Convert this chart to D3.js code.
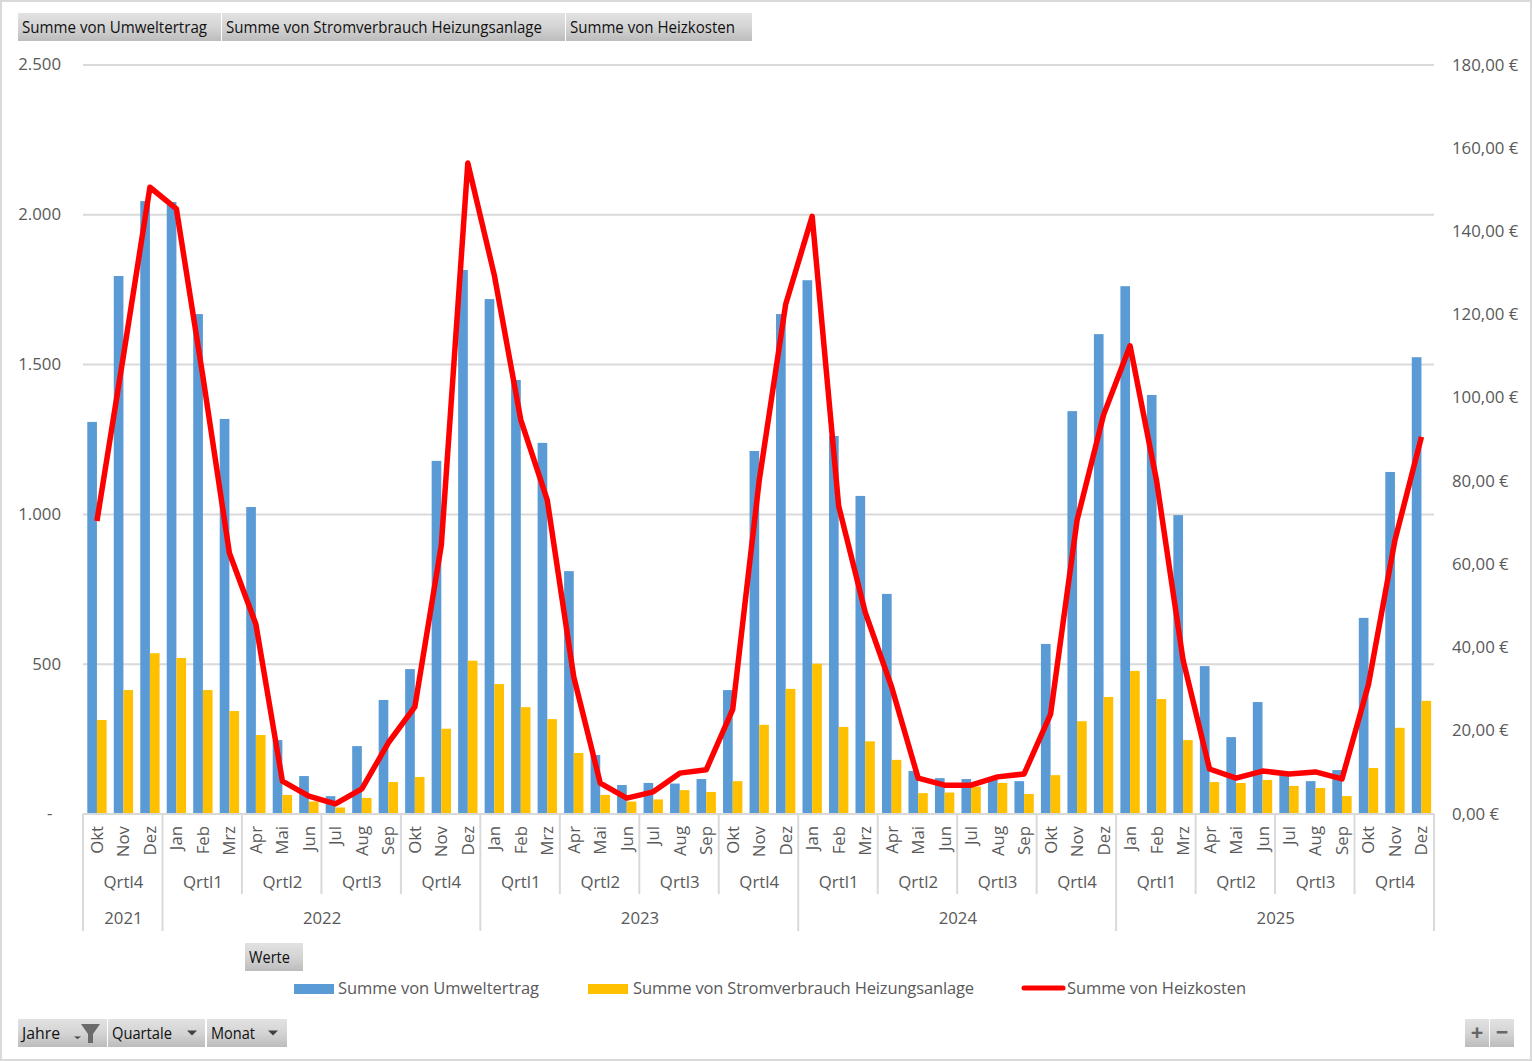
<!DOCTYPE html>
<html>
<head>
<meta charset="utf-8">
<script src="https://cdn.jsdelivr.net/npm/d3@7"></script>
<style>
  html, body { margin: 0; padding: 0; background: #fff; }
  text { font-family: "Open Sans", "Noto Sans", sans-serif; fill: #595959; }
  .btn text { font-family: "Open Sans", "Noto Sans", sans-serif; fill: #111; font-size: 17px; }
  .domain { display: none; }
</style>
</head>
<body>
<svg id="chart" width="1532" height="1061"></svg>
<script>
// values
var months = ["Okt","Nov","Dez",
  "Jan","Feb","Mrz","Apr","Mai","Jun","Jul","Aug","Sep","Okt","Nov","Dez",
  "Jan","Feb","Mrz","Apr","Mai","Jun","Jul","Aug","Sep","Okt","Nov","Dez",
  "Jan","Feb","Mrz","Apr","Mai","Jun","Jul","Aug","Sep","Okt","Nov","Dez",
  "Jan","Feb","Mrz","Apr","Mai","Jun","Jul","Aug","Sep","Okt","Nov","Dez"];
var quarterNames = ["Qrtl4","Qrtl1","Qrtl2","Qrtl3","Qrtl4","Qrtl1","Qrtl2","Qrtl3","Qrtl4","Qrtl1","Qrtl2","Qrtl3","Qrtl4","Qrtl1","Qrtl2","Qrtl3","Qrtl4"];
var yearNames = ["2021","2022","2023","2024","2025"];
var yearLengths = [3,12,12,12,12];

var umweltertrag = [1307,1794,2044,
  2041,1667,1317,1023,245,125,58,225,379,482,1177,1814,
  1717,1447,1237,809,195,95,102,100,115,412,1210,1667,
  1780,1260,1060,733,142,118,115,112,108,566,1343,1600,
  1760,1397,996,492,255,372,128,108,145,653,1140,1523];
var stromverbrauch = [312,412,535,
  519,412,342,262,62,40,20,52,105,122,283,510,
  432,355,315,202,62,40,47,78,72,108,296,416,
  500,289,241,179,68,70,90,102,65,128,308,389,
  476,382,245,105,102,112,92,85,58,152,286,376];
var heizkosten = [70.3,110,150.5,
  145.3,105,62.6,45.5,7.8,4.2,2.3,5.9,17,25.6,64.5,156.3,
  129.4,94.6,75.3,32.8,7.3,3.7,5.2,9.7,10.5,25,80,122.4,
  143.5,73.9,48.4,30.4,8.5,6.8,6.8,8.8,9.5,23.9,70.5,95.8,
  112.4,80,36.9,10.7,8.5,10.2,9.5,10,8.3,31,65.7,90.5];

var leftTicks = [0,500,1000,1500,2000,2500];
var rightTicks = [0,20,40,60,80,100,120,140,160,180];
var seriesNames = ["Summe von Umweltertrag","Summe von Stromverbrauch Heizungsanlage","Summe von Heizkosten"];
var colors = ["#5b9bd5","#ffc000","#ff0000"];

var svg = d3.select("#chart");
var left = 83, right = 1434, top_ = 64.5, bottom = 813.5;
var labelSize = "16.8px";

var de = d3.formatLocale({decimal: ",", thousands: ".", grouping: [3], currency: ["", "\u00a0€"]});

// frame
svg.append("rect").attr("x",1).attr("y",1).attr("width",1530).attr("height",1059)
  .attr("fill","#fff").attr("stroke","#d9d9d9").attr("stroke-width",2);

var defs = svg.append("defs");
var grad = defs.append("linearGradient").attr("id","btnGrad").attr("x1",0).attr("x2",0).attr("y1",0).attr("y2",1);
grad.append("stop").attr("offset","0").attr("stop-color","#e2e2e2");
grad.append("stop").attr("offset","0.5").attr("stop-color","#d4d4d4");
grad.append("stop").attr("offset","1").attr("stop-color","#bcbcbc");

// scales
var x = d3.scaleBand().domain(d3.range(months.length)).range([left+0.7,right+0.7]).paddingInner(0.27).paddingOuter(0.135);
var xSub = d3.scaleBand().domain([0,1]).range([0,x.bandwidth()]);
var yL = d3.scaleLinear().domain([0,2500]).range([bottom,top_]);
var yR = d3.scaleLinear().domain([0,180]).range([bottom,top_]);

// gridlines + left axis
var gL = svg.append("g").attr("transform","translate("+left+",0)")
  .call(d3.axisLeft(yL).tickValues(leftTicks).tickSize(-(right-left)).tickPadding(22)
    .tickFormat(function(d){ return d === 0 ? "-\u00a0\u00a0" : de.format(",d")(d); }));
gL.selectAll("line").attr("stroke","#d9d9d9").attr("stroke-width",2);
gL.selectAll("text").style("font-size",labelSize).attr("dy","0.32em");

// right axis
var gR = svg.append("g").attr("transform","translate("+right+",0)")
  .call(d3.axisRight(yR).tickValues(rightTicks).tickSize(0).tickPadding(18)
    .tickFormat(function(d){ return de.format(",.2f")(d) + "\u00a0€"; }));
gR.selectAll("text").style("font-size",labelSize).attr("dy","0.33em");

// bars
svg.append("g").selectAll("rect").data(umweltertrag).join("rect")
  .attr("x",function(d,i){ return x(i)+xSub(0); })
  .attr("y",function(d){ return yL(d); })
  .attr("width",xSub.bandwidth())
  .attr("height",function(d){ return yL(0)-yL(d); })
  .attr("fill",colors[0]);
svg.append("g").selectAll("rect").data(stromverbrauch).join("rect")
  .attr("x",function(d,i){ return x(i)+xSub(1); })
  .attr("y",function(d){ return yL(d); })
  .attr("width",xSub.bandwidth())
  .attr("height",function(d){ return yL(0)-yL(d); })
  .attr("fill",colors[1]);

// line
var line = d3.line()
  .x(function(d,i){ return x(i)+x.bandwidth()/2; })
  .y(function(d){ return yR(d); });
svg.append("path").datum(heizkosten).attr("d",line)
  .attr("fill","none").attr("stroke",colors[2]).attr("stroke-width",5.5).attr("stroke-linejoin","round");

// category axis, three levels
var step = x.step();
function edge(i){ return left + i*step; }
var axisLevels = svg.append("g").attr("class","levels");
axisLevels.append("line").attr("x1",left).attr("x2",right).attr("y1",bottom+0.5).attr("y2",bottom+0.5)
  .attr("stroke","#d9d9d9").attr("stroke-width",2);

svg.append("g").selectAll("text").data(months).join("text")
  .attr("transform",function(d,i){ return "translate("+(x(i)+x.bandwidth()/2+6)+",826) rotate(-90)"; })
  .attr("text-anchor","end").style("font-size",labelSize)
  .text(function(d){ return d; });

// quarters
quarterNames.forEach(function(q,i){
  var a = edge(i*3), b = edge((i+1)*3);
  axisLevels.append("line").attr("x1",a).attr("x2",a).attr("y1",bottom).attr("y2",894)
    .attr("stroke","#d9d9d9").attr("stroke-width",2);
  axisLevels.append("text").attr("x",(a+b)/2+0.7).attr("y",888).attr("text-anchor","middle")
    .style("font-size",labelSize).text(q);
});
axisLevels.append("line").attr("x1",right).attr("x2",right).attr("y1",bottom).attr("y2",931)
  .attr("stroke","#d9d9d9").attr("stroke-width",2);

var pos = 0;
yearNames.forEach(function(y,i){
  var a = edge(pos), b = edge(pos+yearLengths[i]);
  axisLevels.append("line").attr("x1",a).attr("x2",a).attr("y1",894).attr("y2",931)
    .attr("stroke","#d9d9d9").attr("stroke-width",2);
  axisLevels.append("text").attr("x",(a+b)/2+0.7).attr("y",924).attr("text-anchor","middle")
    .style("font-size",labelSize).text(y);
  pos += yearLengths[i];
});

// legend
var legend = svg.append("g");
legend.append("rect").attr("x",294).attr("y",984).attr("width",40).attr("height",10).attr("fill",colors[0]);
legend.append("rect").attr("x",588).attr("y",984).attr("width",40).attr("height",10).attr("fill",colors[1]);
legend.append("line").attr("x1",1024).attr("x2",1063).attr("y1",988).attr("y2",988)
  .attr("stroke",colors[2]).attr("stroke-width",5).attr("stroke-linecap","round");
[[338,201],[633,341],[1067,179]].forEach(function(p,i){
  legend.append("text").attr("x",p[0]).attr("y",994).style("font-size","16.5px")
    .attr("textLength",p[1]).text(seriesNames[i]);
});

// pivot buttons
function button(x0,x1,y0,label,textW){
  var g = svg.append("g").attr("class","btn");
  g.append("rect").attr("x",x0).attr("y",y0).attr("width",x1-x0).attr("height",28).attr("fill","url(#btnGrad)");
  if (label) g.append("text").attr("x",x0+4).attr("y",y0+20)
    .attr("textLength",textW).attr("lengthAdjust","spacingAndGlyphs").text(label);
  return g;
}
function arrow(cx,cy){
  svg.append("path").attr("d",d3.line()([[cx-5,cy-2.5],[cx+5,cy-2.5],[cx,cy+2.5]])+"Z").attr("fill","#404040");
}
button(18,221,13,seriesNames[0],185);
button(222,565,13,seriesNames[1],316);
button(566,752,13,seriesNames[2],165);
button(245,303,943,"Werte",41);
button(18,107,1019,"Jahre",38);
button(108,205,1019,"Quartale",60);
button(207,287,1019,"Monat",44);
button(1465,1489,1019,null);
button(1490,1514,1019,null);
arrow(192,1033); arrow(273,1033);
svg.append("path").attr("d",d3.line()([[74,1036.5],[81,1036.5],[77.5,1039]])+"Z").attr("fill","#404040");
// funnel
svg.append("path").attr("d",d3.line()([[81,1024],[100,1024],[93,1034],[93,1043],[88,1043],[88,1034]])+"Z").attr("fill","#6b6b6b");
// zoom glyphs
svg.append("text").attr("x",1477).attr("y",1040).attr("text-anchor","middle")
  .style("font-size","22px").style("font-weight","bold").style("fill","#666").text("+");
svg.append("text").attr("x",1502).attr("y",1040).attr("text-anchor","middle")
  .style("font-size","22px").style("font-weight","bold").style("fill","#666").text("\u2212");
</script>
</body>
</html>
